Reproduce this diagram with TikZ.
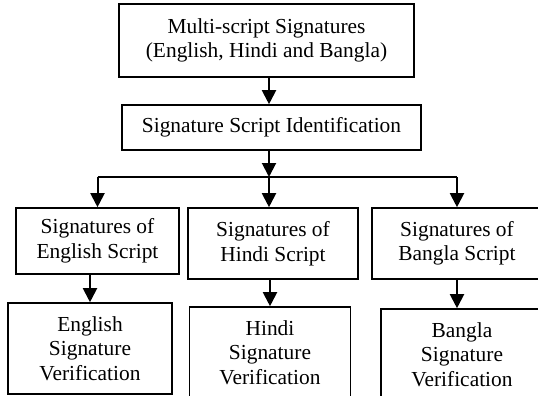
\documentclass[tikz,border=0pt]{standalone}
\usepackage{fontspec}
\setmainfont{Liberation Serif}
\usetikzlibrary{arrows.meta}
\tikzset{
  box/.style={draw=black, line width=1.6pt, align=center, inner sep=0pt,
    font=\fontsize{21.4}{24.5}\selectfont},
  arr/.style={line width=2pt, -{Triangle[length=14pt,width=14pt]}},
  ln/.style={line width=2pt}
}
\begin{document}
\begin{tikzpicture}[x=1pt,y=-1pt]
\useasboundingbox (0,0) rectangle (538,396);
\clip (0,0) rectangle (538,396);
\node[box, minimum width=295pt, minimum height=73pt] (top) at (266.5,40.5) {Multi-script Signatures\\(English, Hindi and Bangla)};
\node[box, minimum width=299pt, minimum height=45pt] (id) at (271.5,127.5) {Signature Script Identification};
\node[box, minimum width=163pt, minimum height=66pt] (eng) at (97.5,241) {Signatures of\\English Script};
\node[box, minimum width=170pt, minimum height=71pt] (hin) at (273,243.5) {Signatures of\\Hindi Script};
\node[box, minimum width=170pt, minimum height=71pt] (ban) at (457,243.5) {Signatures of\\Bangla Script};
\node[box, minimum width=164pt, minimum height=91pt] (engv) at (90,348.5) {English\\Signature\\Verification};
\node[box, minimum width=161pt, minimum height=91pt] (hinv) at (270,352.5) {Hindi\\Signature\\Verification};
\node[box, minimum width=162pt, minimum height=91pt] (banv) at (462,354.5) {Bangla\\Signature\\Verification};
\coordinate (j) at (269,177);
\draw[arr] (top.south -| j) -- (id.north -| j);
\draw[arr] (id.south -| j) -- (j);
\draw[ln] (eng.north |- j) -- (ban.north |- j);
\draw[arr] (eng.north |- j) -- (eng.north);
\draw[arr] (j) -- (hin.north -| j);
\draw[arr] (ban.north |- j) -- (ban.north);
\draw[arr] (eng.south -| engv.north) -- (engv.north);
\draw[arr] (hin.south -| hinv.north) -- (hinv.north);
\draw[arr] (ban.south) -- (ban.south |- banv.north);
\end{tikzpicture}
\end{document}
